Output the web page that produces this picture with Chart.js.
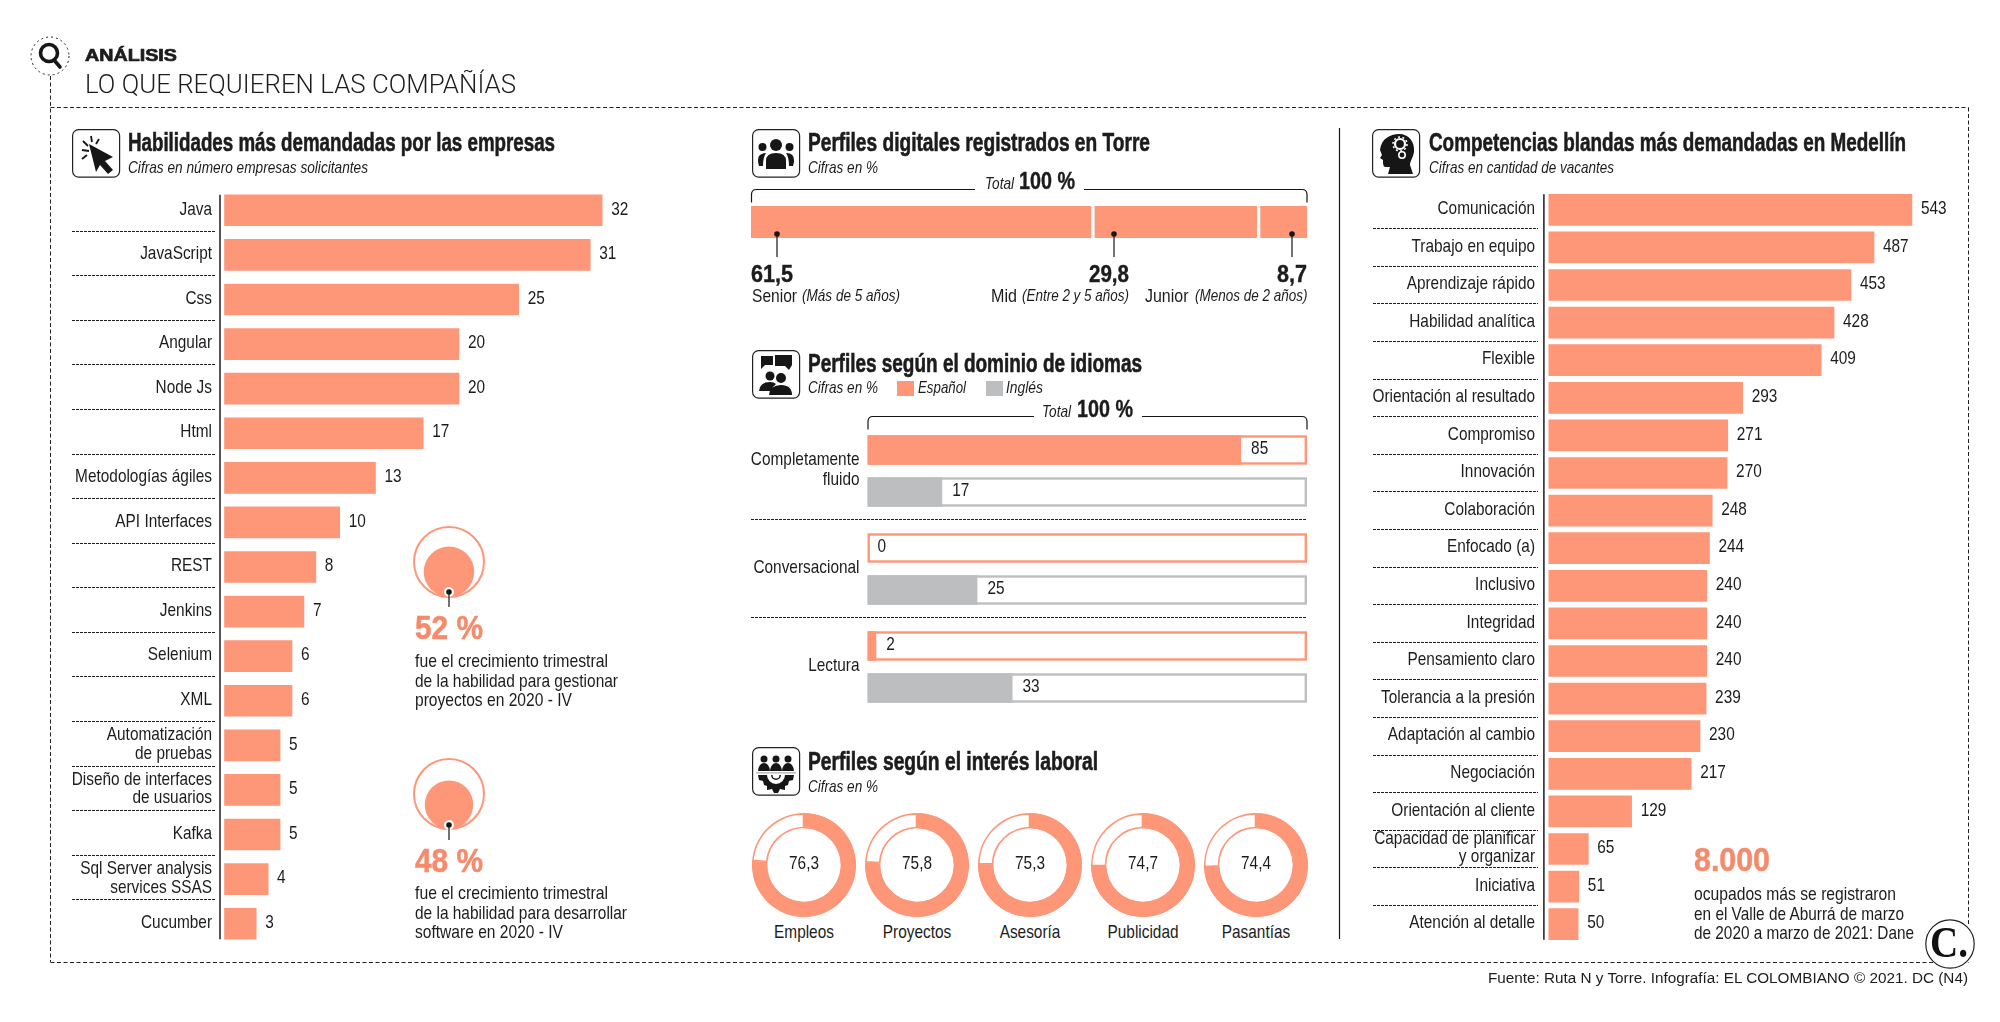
<!DOCTYPE html>
<html lang="es"><head><meta charset="utf-8"><title>Lo que requieren las compañías</title>
<script src="https://cdn.jsdelivr.net/npm/chart.js@4"></script>
<style>
html,body{margin:0;padding:0;background:#fff;width:2000px;height:1022px;overflow:hidden}
#page{position:relative;width:2000px;height:1022px;overflow:hidden}
canvas{position:absolute}
svg{position:absolute;left:0;top:0}
.t{position:absolute;white-space:nowrap;line-height:1;color:#1c1c1c;font-family:"Liberation Sans",sans-serif}
</style></head><body><div id="page"></div>
<script>
// ---------- data ----------
const skillCats=['Java','JavaScript','Css','Angular','Node Js','Html','Metodologías ágiles','API Interfaces','REST','Jenkins','Selenium','XML',['Automatización','de pruebas'],['Diseño de interfaces','de usuarios'],'Kafka',['Sql Server analysis','services SSAS'],'Cucumber'];
const skillVals=[32,31,25,20,20,17,13,10,8,7,6,6,5,5,5,4,3];
const softCats=['Comunicación','Trabajo en equipo','Aprendizaje rápido','Habilidad analítica','Flexible','Orientación al resultado','Compromiso','Innovación','Colaboración','Enfocado (a)','Inclusivo','Integridad','Pensamiento claro','Tolerancia a la presión','Adaptación al cambio','Negociación','Orientación al cliente',['Capacidad de planificar','y organizar'],'Iniciativa','Atención al detalle'];
const softVals=[543,487,453,428,409,293,271,270,248,244,240,240,240,239,230,217,129,65,51,50];
const levelNames=['Senior','Mid','Junior'];
const levelVals=[61.5,29.8,8.7];
const langCats=[['Completamente','fluido'],'Conversacional','Lectura'];
const spanishVals=[85,0,2];
const englishVals=[17,25,33];
const interestCats=['Empleos','Proyectos','Asesoría','Publicidad','Pasantías'];
const interestVals=[76.3,75.8,75.3,74.7,74.4];
const growthVals=[52,48];

// ---------- style ----------
const ORANGE='#FE9678',GREY='#BDBEC0',INK='#1c1c1c',SANS='"Liberation Sans",sans-serif',SQUEEZE=.81;
const page=document.getElementById('page');
Chart.defaults.animation=false;Chart.defaults.responsive=false;Chart.defaults.devicePixelRatio=1;
Chart.defaults.plugins.legend.display=false;Chart.defaults.plugins.tooltip.enabled=false;Chart.defaults.events=[];

function T(s,x,y,size,w,o={}){
  const e=document.createElement('div');e.className='t';e.textContent=s;
  e.style.fontSize=size+'px';e.style.left=x+'px';e.style.top=(y-1)+'px';
  if(o.b)e.style.fontWeight=o.b===true?700:o.b;
  if(o.i)e.style.fontStyle='italic';
  if(o.c)e.style.color=o.c;
  if(o.f)e.style.fontFamily=o.f;
  if(o.stroke)e.style.webkitTextStroke=o.stroke+'px '+(o.c||INK);
  page.appendChild(e);
  const k=w?w/e.getBoundingClientRect().width:SQUEEZE;
  e.style.transformOrigin='left center';
  const dx=o.center?-e.getBoundingClientRect().width*k/2:0;
  e.style.transform=`translate(${dx}px,-50%) scaleX(${k})`;
  return e;
}
function cv(x,y,w,h){
  const c=document.createElement('canvas');c.width=w;c.height=h;c.style.left=x+'px';c.style.top=y+'px';c.style.width=w+'px';c.style.height=h+'px';page.appendChild(c);
  const g=c.getContext('2d'),fill=g.fillText.bind(g);
  g.fillText=(s,tx,ty)=>{g.save();g.translate(tx,ty-1);g.scale(SQUEEZE,1);fill(s,0,0);g.restore();};
  return c;
}
const noPad=s=>{s.paddingTop=0;s.paddingBottom=0;s.paddingLeft=0;s.paddingRight=0;};

const valueLabels={id:'valueLabels',afterDatasetsDraw(ch,a,o){
  const c=ch.ctx;c.save();c.font=o.size+'px '+SANS;c.fillStyle=INK;c.textBaseline='middle';
  ch.data.datasets.forEach((d,i)=>ch.getDatasetMeta(i).data.forEach((el,j)=>c.fillText(String(d.data[j]),el.x+o.gap,el.y)));
  c.restore();}};
const separators={id:'separators',afterDraw(ch,a,o){
  const s=ch.scales.y,c=ch.ctx;c.save();c.strokeStyle=INK;c.lineWidth=1;c.setLineDash([3,1]);
  for(let i=0;i<ch.data.labels.length-1;i++){const y=Math.round((s.getPixelForValue(i)+s.getPixelForValue(i+1))/2+(o.dy||0))+.5;
    c.beginPath();c.moveTo(o.x0,y);c.lineTo(o.x1,y);c.stroke();}
  c.restore();}};
const axisLine={id:'axisLine',afterDraw(ch,a,o){
  const m=ch.getDatasetMeta(0).data,c=ch.ctx,f=m[0],l=m[m.length-1],x=ch.chartArea.left;
  c.save();c.fillStyle='#fff';c.fillRect(x-1,f.y-f.height/2-1,o.gap+1,l.y+l.height/2-f.y+f.height/2+2);
  c.strokeStyle=INK;c.lineWidth=1.5;c.beginPath();c.moveTo(x-.4,f.y-f.height/2);c.lineTo(x-.4,l.y+l.height/2);c.stroke();c.restore();}};
const tracks={id:'tracks',beforeDatasetsDraw(ch){
  const c=ch.ctx,X=ch.scales.x;c.save();
  ch.data.datasets.forEach((d,i)=>ch.getDatasetMeta(i).data.forEach(el=>{
    const x0=X.getPixelForValue(0),x1=X.getPixelForValue(100),h=el.height;
    c.strokeStyle=d.backgroundColor;c.lineWidth=2.4;c.strokeRect(x0+1.2,el.y-h/2+1.2,x1-x0-2.4,h-2.4);}));
  c.restore();}};
const centerText={id:'centerText',afterDraw(ch,a,o){
  const c=ch.ctx,A=ch.chartArea;c.save();c.font=o.size+'px '+SANS;c.fillStyle=INK;c.textAlign='center';c.textBaseline='middle';
  c.fillText(o.text,(A.left+A.right)/2,(A.top+A.bottom)/2);c.restore();}};

function hbars(cfg){
  const W=Math.round(cfg.axisW+cfg.plotW);
  new Chart(cv(cfg.left,cfg.top,W,cfg.height),{type:'bar',
    data:{labels:cfg.cats,datasets:[{data:cfg.vals,backgroundColor:ORANGE,barThickness:31,borderWidth:0}]},
    plugins:[valueLabels,separators,axisLine],
    options:{indexAxis:'y',layout:{padding:0},
      scales:{x:{display:false,min:0,max:(W-cfg.axisW)/cfg.unit},
        y:{afterFit(s){s.width=cfg.axisW;noPad(s)},grid:{display:false,drawTicks:false},border:{display:false},
           ticks:{color:INK,padding:cfg.pad,autoSkip:false,font:{family:SANS,size:cfg.font,lineHeight:.97}}}},
      plugins:{valueLabels:{gap:cfg.gap,size:cfg.font},separators:{x0:cfg.sep0,x1:cfg.sep1,dy:cfg.sepDy},axisLine:{gap:cfg.off}}}});
}
hbars({left:60,top:188,axisW:160.4,plotW:477,unit:11.93,height:758,cats:skillCats,vals:skillVals,pad:8.4,font:19,gap:9,sep0:12,sep1:155,sepDy:-2,off:3.8});
hbars({left:1360,top:191,axisW:184.3,plotW:406,unit:.677,height:752,cats:softCats,vals:softVals,pad:9.3,font:19,gap:9,sep0:13,sep1:178,sepDy:-.5,off:4.2});

// seniority stacked bar
new Chart(cv(751,200,556,44),{type:'bar',
  data:{labels:['Perfiles'],datasets:levelVals.map((v,i)=>({label:levelNames[i],data:[v],backgroundColor:ORANGE,stack:'s',barThickness:32,borderSkipped:false,borderColor:'#fff',borderWidth:{left:i>0?2:0,right:i<2?2:0}}))},
  options:{indexAxis:'y',layout:{padding:0},scales:{x:{display:false,stacked:true,min:0,max:100},y:{display:false,stacked:true}}}});

// languages
new Chart(cv(751,422,556,294),{type:'bar',
  data:{labels:langCats,datasets:[{label:'Español',data:spanishVals,backgroundColor:ORANGE},{label:'Inglés',data:englishVals,backgroundColor:GREY}]},
  plugins:[tracks,valueLabels,separators],
  options:{indexAxis:'y',layout:{padding:0},datasets:{bar:{categoryPercentage:.857,barPercentage:.7,borderWidth:0}},
    scales:{x:{display:false,min:0,max:100},
      y:{afterFit(s){s.width=116.5;noPad(s)},grid:{display:false,drawTicks:false},border:{display:false},ticks:{color:INK,padding:8,font:{family:SANS,size:19,lineHeight:1.08}}}},
    plugins:{valueLabels:{gap:10,size:19},separators:{x0:0,x1:556,dy:-1}}}});

// interest doughnuts
const cxs=[804,917,1030,1143,1255.5];
interestVals.forEach((v,i)=>{
  new Chart(cv(cxs[i]-52,813,104,104),{type:'doughnut',
    data:{labels:[interestCats[i],''],datasets:[{data:[v,100-v],backgroundColor:[ORANGE,'#fff'],borderColor:ORANGE,borderWidth:1.3,borderAlign:'inner'}]},
    plugins:[centerText],
    options:{cutout:'70.5%',layout:{padding:0},plugins:{centerText:{text:String(v).replace('.',','),size:19}}}});
  T(interestCats[i],cxs[i],932,19,0,{center:true});
});

// growth bubbles
growthVals.forEach((g,i)=>{
  const ir=35*Math.sqrt(g/100);
  new Chart(cv(412,[524.5,756.5][i],74,74),{type:'bubble',
    data:{datasets:[{data:[{x:37,y:2+ir,r:ir}],backgroundColor:ORANGE,borderWidth:0},{data:[{x:37,y:37,r:35}],backgroundColor:'#fff',borderColor:ORANGE,borderWidth:2}]},
    options:{layout:{padding:0,autoPadding:false},clip:false,scales:{x:{display:false,min:0,max:74},y:{display:false,min:0,max:74}}}});
});

// ---------- furniture ----------
const box=(x,y,inner)=>`<g transform="translate(${x} ${y})"><rect x=".6" y=".6" width="47" height="47.5" rx="6" fill="#fff" stroke="#222" stroke-width="1.2"/>${inner}</g>`;
const K='#161616';
const cursor=`<path d="M17 15L41 28L33 32L41 41L36 45L28 36L24 43Z" fill="${K}"/><path d="M10 21L17 22M11 12L16 17M19 7L20 13M27 10L24 15M10 30L15 26" stroke="${K}" stroke-width="1.8"/>`;
const people=`<g fill="${K}"><circle cx="24" cy="16" r="6"/><circle cx="10.5" cy="18" r="4"/><circle cx="37.5" cy="18" r="4"/><path d="M14 40V32Q14 24 24 24Q34 24 34 32V40Z"/><path d="M7 37Q5 31 7 27Q9 24 14 24Q11 28 11 37Z"/><path d="M41 37Q43 31 41 27Q39 24 34 24Q37 28 37 37Z"/></g>`;
const chat=`<g fill="${K}"><path d="M9 6H21V15H13L9 19V15Q9 10 9 6Z"/><path d="M23 5H40V15L37 20L33 16H23Z"/><circle cx="18" cy="26" r="4.5"/><circle cx="29" cy="28" r="5"/><path d="M7 41Q8 32 18 32Q22 32 24 34Q20 37 19 41Z"/><path d="M17 45Q18 35 29 35Q40 35 40 45Z"/></g>`;
const gearP=`<g fill="${K}"><circle cx="12" cy="12" r="3.5"/><circle cx="24" cy="12" r="3.5"/><circle cx="36" cy="12" r="3.5"/><path d="M6 24Q7 16 12 16Q17 16 18 24ZM18 24Q19 16 24 16Q29 16 30 24ZM30 24Q31 16 36 16Q41 16 42 24Z"/><rect x="4" y="25" width="40" height="1.6" fill="${GREY}"/><path d="M6 28H42L41 33L37 34L36 38L33 39L33 43L28 42L26 46H22L20 42L15 43L15 39L12 38L11 34L7 33Z"/><path d="M15 28A9 9 0 0 0 33 28H29A5 5 0 0 1 19 28Z" fill="#fff"/><path d="M20.5 28A3.5 3.5 0 0 0 27.5 28Z" fill="#fff"/></g>`;
const head=`<path d="M8 21C9 10 18 5 27 5C37 5 43 13 42 23C41 29 38 32 38 36L41 45H16L18 38H13Q11 37 11 34L11 31L8 29L10 26Z" fill="${K}"/><g fill="none" stroke="#fff"><circle cx="28" cy="15" r="5" stroke-width="2.2"/><circle cx="28" cy="15" r="7" stroke-width="1.6" stroke-dasharray="2 2.4"/><circle cx="30" cy="26" r="3.2" stroke-width="1.6"/></g>`;
const leader=(x,y0,y1,halo)=>`${halo?`<circle cx="${x}" cy="${y0}" r="5" fill="#fff"/>`:''}<line x1="${x}" x2="${x}" y1="${y0}" y2="${y1}" stroke="${K}" stroke-width="1.2"/><circle cx="${x}" cy="${y0}" r="2.8" fill="${K}"/>`;
const bracket=(x0,x1,y,g0,g1)=>`<path d="M${x0} ${y+13}V${y+5}Q${x0} ${y} ${x0+5} ${y}H${g0}M${g1} ${y}H${x1-5}Q${x1} ${y} ${x1} ${y+5}V${y+13}" fill="none" stroke="${K}" stroke-width="1.2"/>`;
const dash=(x1,y1,x2,y2)=>`<line x1="${x1}" y1="${y1}" x2="${x2}" y2="${y2}" stroke="#222" stroke-width="1" stroke-dasharray="4 2.5"/>`;
const svg=`<svg width="2000" height="1022" xmlns="http://www.w3.org/2000/svg">
${dash(50.5,76,50.5,962)}${dash(50.5,107.5,1968.5,107.5)}${dash(50.5,962.5,1968.5,962.5)}${dash(1968.5,107.5,1968.5,925)}
<circle cx="50" cy="56" r="19" fill="#fff" stroke="#222" stroke-width="1" stroke-dasharray="2 3"/>
<circle cx="49" cy="53" r="8.5" fill="none" stroke="${K}" stroke-width="3.6"/><line x1="54" y1="60" x2="60" y2="67" stroke="${K}" stroke-width="3.6" stroke-linecap="round"/>
${box(72,129,cursor)}${box(752,129,people)}${box(752,350,chat)}${box(752,747,gearP)}${box(1372,129,head)}
<line x1="1339.5" x2="1339.5" y1="128" y2="939" stroke="${K}" stroke-width="1.2"/>
${bracket(751.5,1307,189.5,975,1084)}${bracket(868,1307,416.5,1034,1142)}
${leader(777,234,257)}${leader(1114,234,257)}${leader(1292,234,257)}
${leader(449,592,607,true)}${leader(449,825,840,true)}
<rect x="897" y="381" width="17" height="15" fill="${ORANGE}"/><rect x="986" y="381" width="17" height="15" fill="${GREY}"/>
<circle cx="1950" cy="944" r="24.2" fill="#fff" stroke="#222" stroke-width="1.2"/>
</svg>`;
page.insertAdjacentHTML('beforeend',svg);

// ---------- text ----------
const LIGHT='Roboto,"Liberation Sans",sans-serif',WIDE='"Liberation Sans",sans-serif';
T('ANÁLISIS',85,56,17,92,{b:true,f:WIDE,stroke:.7});
T('LO QUE REQUIEREN LAS COMPAÑÍAS',85,85,25,431,{b:300,f:LIGHT});
const head1=(s,x,y,w)=>T(s,x,y,25,w,{b:true,stroke:.6});
const sub=(s,x,y,w)=>T(s,x,y,17,w,{i:true});
head1('Habilidades más demandadas por las empresas',128,143,427);sub('Cifras en número empresas solicitantes',128,168,240);
head1('Perfiles digitales registrados en Torre',808,143,342);sub('Cifras en %',808,168,70);
head1('Perfiles según el dominio de idiomas',808,364,334);sub('Cifras en %',808,388,70);
sub('Español',918,388,48);sub('Inglés',1006,388,37);
head1('Perfiles según el interés laboral',808,762,290);sub('Cifras en %',808,787,70);
head1('Competencias blandas más demandadas en Medellín',1429,143,477);sub('Cifras en cantidad de vacantes',1429,168,185);
const total=(x1,x2,y)=>{sub('Total',x1,y+2,29);T('100 %',x2,y,23,56,{b:true,stroke:.4});};
total(985,1019,182);total(1042,1077,410);
const big=(s,x,w)=>T(s,x,275,23,w,{b:true,stroke:.4});
big('61,5',751,42);big('29,8',1089,40);big('8,7',1277,30);
const nm=(s,x,w)=>T(s,x,296,19,w);const note=(s,x,w)=>T(s,x,296,17,w,{i:true});
nm(levelNames[0],752,45);note('(Más de 5 años)',802,98);
nm(levelNames[1],990.5,26);note('(Entre 2 y 5 años)',1022,107);
nm(levelNames[2],1145,43.5);note('(Menos de 2 años)',1194.5,112.5);
const hot='#F58B6C';
T('52 %',415,628,33,68,{b:true,c:hot,stroke:.5});
T('fue el crecimiento trimestral',415,661,19,193);T('de la habilidad para gestionar',415,681,19,203);T('proyectos en 2020 - IV',415,700,19,157);
T('48 %',415,861,33,68,{b:true,c:hot,stroke:.5});
T('fue el crecimiento trimestral',415,893,19,193);T('de la habilidad para desarrollar',415,913,19,212);T('software en 2020 - IV',415,932,19,148);
T('8.000',1693.5,860,33,76,{b:true,c:hot,stroke:.5});
T('ocupados más se registraron',1693.5,894,19,202);T('en el Valle de Aburrá de marzo',1693.5,914,19,210);T('de 2020 a marzo de 2021: Dane',1693.5,933,19,220);
T('Fuente: Ruta N y Torre. Infografía: EL COLOMBIANO © 2021. DC (N4)',1488,979,15.5,480,{f:WIDE});
T('C.',1930,944,44,38,{b:true,f:'"Liberation Serif",serif',c:'#111'});
</script></body></html>
